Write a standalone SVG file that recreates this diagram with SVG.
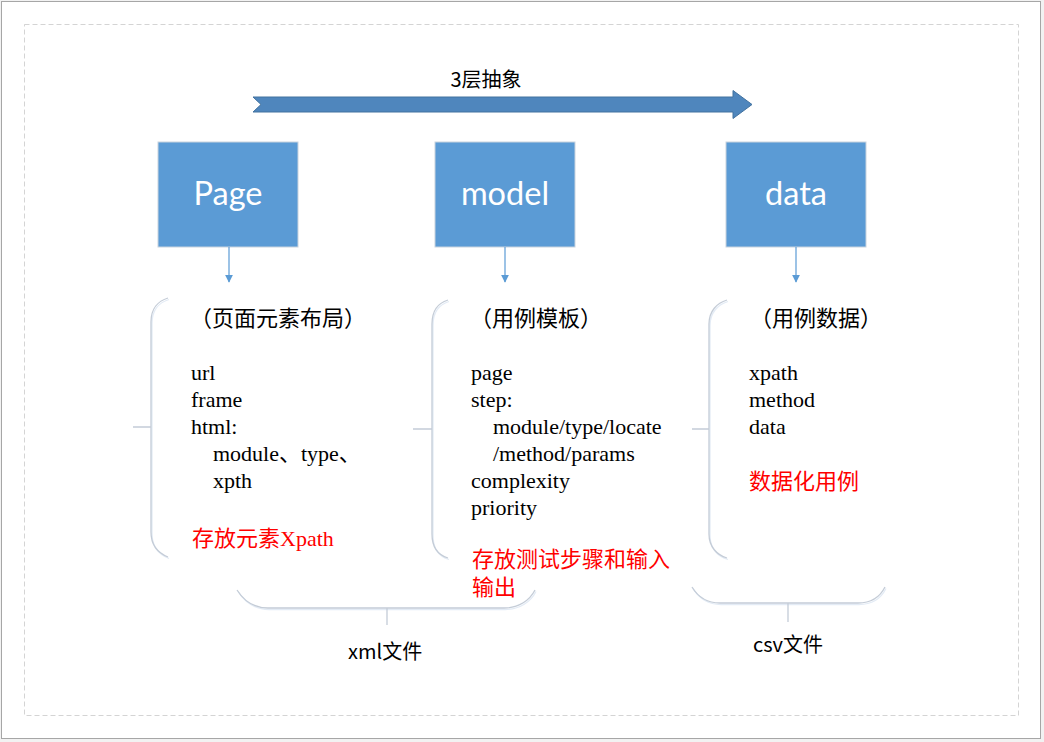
<svg xmlns="http://www.w3.org/2000/svg" width="1044" height="742" viewBox="0 0 1044 742">
<defs>
<style>
.box{fill:#5b9bd5;stroke:#c9d3de;stroke-width:1}
.boxt{fill:#fff;font-family:Lato,"Open Sans","Noto Sans",sans-serif;font-size:32.5px;text-anchor:middle}
.br{fill:none;stroke:#c4ccd7;stroke-width:1.3}
.brs{fill:none;stroke:#e3ebf5;stroke-width:1.3}
.con{fill:none;stroke:#5b9bd5;stroke-width:1.2}
.hd{font-family:"Noto Sans CJK SC",sans-serif;font-size:22px;fill:#000}
.bd{font-family:"Liberation Serif","Noto Sans CJK SC",serif;font-size:22px;fill:#000}
.rd{font-family:"Liberation Serif","Noto Sans CJK SC",serif;font-size:22px;fill:#ff0000}
.lb{font-family:"Noto Sans CJK SC",sans-serif;font-size:20px;fill:#000}
</style>
<marker id="ah" viewBox="0 0 10 10" refX="9" refY="5" markerWidth="8" markerHeight="8" markerUnits="userSpaceOnUse" orient="auto">
<path d="M0,0 L10,5 L0,10 z" fill="#5b9bd5"/>
</marker>
</defs>
<rect x="0" y="0" width="1044" height="742" fill="#f2f2f2"/>
<rect x="1.5" y="1.5" width="1039" height="737" fill="#ffffff" stroke="#a6a6a6" stroke-width="1"/>
<rect x="24.5" y="24.5" width="994" height="691" fill="none" stroke="#d4d4d4" stroke-width="1" stroke-dasharray="5,3"/>

<g id="abstraction-arrow">
<path d="M253,97 L733,97 L733,90.5 L752,104.5 L733,118.5 L733,112 L253,112 L261,104.5 z" fill="#4f86bd" stroke="#42729f" stroke-width="1"/>
<text x="486" y="87" class="lb" text-anchor="middle" font-size="21">3层抽象</text>
</g>

<g id="node-page">
<rect class="box" x="158" y="142" width="140" height="105"/>
<text class="boxt" x="228" y="205">Page</text>
</g>
<g id="node-model">
<rect class="box" x="435" y="142" width="140" height="105"/>
<text class="boxt" x="505" y="205">model</text>
</g>
<g id="node-data">
<rect class="box" x="726" y="142" width="140" height="105"/>
<text class="boxt" x="796" y="205">data</text>
</g>

<g id="connectors">
<line class="con" x1="229" y1="247" x2="229" y2="282" marker-end="url(#ah)"/>
<line class="con" x1="505" y1="247" x2="505" y2="282" marker-end="url(#ah)"/>
<line class="con" x1="796" y1="247" x2="796" y2="282" marker-end="url(#ah)"/>
<g transform="translate(1,1.5)">
<path class="brs" d="M168,298 C158,301 151,309 151,322 L151,532 C151,545 158,553 168,557"/>
<path class="brs" d="M448,300 C438,303 432,311 432,324 L432,534 C432,547 438,555 448,558"/>
<path class="brs" d="M727,300 C717,303 709,311 709,324 L709,534 C709,547 717,555 727,558"/>
<path class="brs" d="M237,590 C244,601 253,608 268,608 L504,608 C519,608 530,600 535,590"/>
<path class="brs" d="M692,587 C698,597 707,603 720,603 L858,603 C871,603 880,597 885,587"/>
</g>
<path class="br" d="M168,298 C158,301 151,309 151,322 L151,532 C151,545 158,553 168,557 M133,427 H151"/>
<path class="br" d="M448,300 C438,303 432,311 432,324 L432,534 C432,547 438,555 448,558 M413,429 H432"/>
<path class="br" d="M727,300 C717,303 709,311 709,324 L709,534 C709,547 717,555 727,558 M692,429 H709"/>
<path class="br" d="M237,590 C244,601 253,608 268,608 L504,608 C519,608 530,600 535,590 M387,608 V625"/>
<path class="br" d="M692,587 C698,597 707,603 720,603 L858,603 C871,603 880,597 885,587 M788,603 V622"/>
</g>

<g id="desc-page">
<text class="hd" x="190" y="326">（页面元素布局）</text>
<text class="bd" x="191" y="380">url</text>
<text class="bd" x="191" y="407">frame</text>
<text class="bd" x="191" y="434">html:</text>
<text class="bd" x="213" y="461">module、type、</text>
<text class="bd" x="213" y="488">xpth</text>
<text class="rd" x="192" y="546">存放元素Xpath</text>
</g>

<g id="desc-model">
<text class="hd" x="470" y="326">（用例模板）</text>
<text class="bd" x="471" y="380">page</text>
<text class="bd" x="471" y="407">step:</text>
<text class="bd" x="493" y="434">module/type/locate</text>
<text class="bd" x="493" y="461">/method/params</text>
<text class="bd" x="471" y="488">complexity</text>
<text class="bd" x="471" y="515">priority</text>
<text class="rd" x="472" y="567">存放测试步骤和输入</text>
<text class="rd" x="472" y="595">输出</text>
</g>

<g id="desc-data">
<text class="hd" x="750" y="326">（用例数据）</text>
<text class="bd" x="749" y="380">xpath</text>
<text class="bd" x="749" y="407">method</text>
<text class="bd" x="749" y="434">data</text>
<text class="rd" x="749" y="489">数据化用例</text>
</g>

<g id="label-xml">
<text class="lb" x="348" y="659">xml文件</text>
</g>
<g id="label-csv">
<text class="lb" x="753" y="652">csv文件</text>
</g>
</svg>
